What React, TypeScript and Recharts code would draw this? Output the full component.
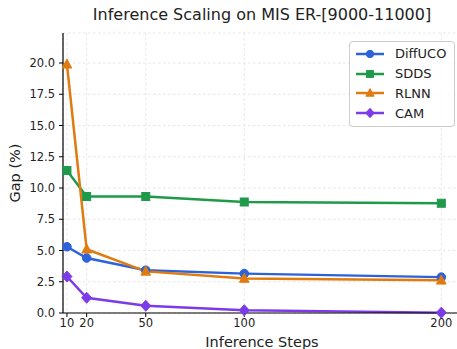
import { LineChart, Line, XAxis, YAxis, CartesianGrid } from 'recharts';

const steps = [10, 20, 50, 100, 200];
const diffuco = [5.3, 4.4, 3.42, 3.15, 2.87];
const sdds = [11.4, 9.32, 9.32, 8.88, 8.78];
const rlnn = [19.9, 5.1, 3.33, 2.76, 2.62];
const cam = [2.92, 1.22, 0.58, 0.22, 0.03];

const xTicks = [10, 20, 50, 100, 200];
const yTicks = [0, 2.5, 5, 7.5, 10, 12.5, 15, 17.5, 20];

const data = steps.map((s, i) => ({
  step: s,
  DiffUCO: diffuco[i],
  SDDS: sdds[i],
  RLNN: rlnn[i],
  CAM: cam[i],
}));

const COLORS = {
  DiffUCO: '#2d62d8',
  SDDS: '#1f9a4a',
  RLNN: '#e07b10',
  CAM: '#7b3be8',
};

const FONT = '"DejaVu Sans", sans-serif';

type Shape = 'circle' | 'square' | 'triangle' | 'diamond';

function Marker({ cx, cy, shape, color, k = 1 }: { cx: number; cy: number; shape: Shape; color: string; k?: number }) {
  if (cx == null || cy == null) return null;
  if (shape === 'circle') return <circle cx={cx} cy={cy} r={4.3 * k} fill={color} stroke={color} />;
  if (shape === 'square')
    return <rect x={cx - 4 * k} y={cy - 4 * k} width={8 * k} height={8 * k} fill={color} stroke={color} />;
  if (shape === 'triangle')
    return (
      <polygon
        points={`${cx},${cy - 5.2 * k} ${cx - 4.8 * k},${cy + 3.8 * k} ${cx + 4.8 * k},${cy + 3.8 * k}`}
        fill={color}
        stroke={color}
      />
    );
  return (
    <polygon
      points={`${cx},${cy - 5.5 * k} ${cx + 5 * k},${cy} ${cx},${cy + 5.5 * k} ${cx - 5 * k},${cy}`}
      fill={color}
      stroke={color}
    />
  );
}

const series: { key: keyof typeof COLORS; shape: Shape }[] = [
  { key: 'DiffUCO', shape: 'circle' },
  { key: 'SDDS', shape: 'square' },
  { key: 'RLNN', shape: 'triangle' },
  { key: 'CAM', shape: 'diamond' },
];

function LegendBox() {
  return (
    <div
      style={{
        position: 'absolute',
        left: 349,
        top: 41,
        width: 106,
        height: 86,
        boxSizing: 'border-box',
        border: '1px solid #cccccc',
        borderRadius: 4,
        background: 'rgba(255,255,255,0.85)',
        padding: '2px 0 0 5px',
        fontFamily: FONT,
        fontSize: 13,
        color: '#222',
      }}
    >
      {series.map((s) => (
        <div key={s.key} style={{ display: 'flex', alignItems: 'center', height: 19.8 }}>
          <svg width={30} height={12} style={{ marginRight: 10 }}>
            <line x1={1} y1={6} x2={29} y2={6} stroke={COLORS[s.key]} strokeWidth={2.5} />
            <Marker cx={15} cy={6} shape={s.shape} color={COLORS[s.key]} k={0.85} />
          </svg>
          <span>{s.key}</span>
        </div>
      ))}
    </div>
  );
}

export default function App() {
  return (
    <div style={{ position: 'absolute', left: 0, top: 0, width: 457, height: 349, overflow: 'hidden', background: '#fff' }}>
      <div
        style={{
          position: 'absolute',
          left: 0,
          width: 524,
          top: 5,
          textAlign: 'center',
          fontFamily: FONT,
          fontSize: 16,
          color: '#222',
        }}
      >
        Inference Scaling on MIS ER-[9000-11000]
      </div>
      <LineChart
        width={470}
        height={349}
        data={data}
        margin={{ top: 33, right: 9, left: 0, bottom: 0 }}
        style={{ position: 'absolute', left: 0, top: 0 }}
      >
        <CartesianGrid stroke="#e6e6e6" strokeDasharray="2.5 2.5" />
        <XAxis
          dataKey="step"
          type="number"
          domain={[8, 210]}
          ticks={xTicks}
          interval={0}
          height={36}
          tickSize={4}
          tickMargin={2}
          tick={{ fill: '#222', fontSize: 11.5, fontFamily: FONT }}
          axisLine={{ stroke: '#000', strokeWidth: 1.2 }}
          tickLine={{ stroke: '#000' }}
          label={{ value: 'Inference Steps', position: 'insideBottom', offset: 2, fill: '#222', fontSize: 14.5, fontFamily: FONT }}
        />
        <YAxis
          type="number"
          domain={[0, 22.4]}
          ticks={yTicks}
          interval={0}
          width={63}
          tickSize={4}
          tickMargin={4}
          tickFormatter={(v: number) => v.toFixed(1)}
          tick={{ fill: '#222', fontSize: 11.5, fontFamily: FONT }}
          axisLine={{ stroke: '#000', strokeWidth: 1.2 }}
          tickLine={{ stroke: '#000' }}
          label={{ value: 'Gap (%)', angle: -90, position: 'insideLeft', offset: 15, fill: '#222', fontSize: 14.5, fontFamily: FONT, style: { textAnchor: 'middle' } }}
        />
        {series.map((s) => (
          <Line
            key={s.key}
            dataKey={s.key}
            stroke={COLORS[s.key]}
            strokeWidth={2.5}
            isAnimationActive={false}
            dot={(p: any) => <Marker key={`${s.key}-${p.index}`} cx={p.cx} cy={p.cy} shape={s.shape} color={COLORS[s.key]} />}
            activeDot={false}
          />
        ))}
      </LineChart>
      <LegendBox />
    </div>
  );
}
